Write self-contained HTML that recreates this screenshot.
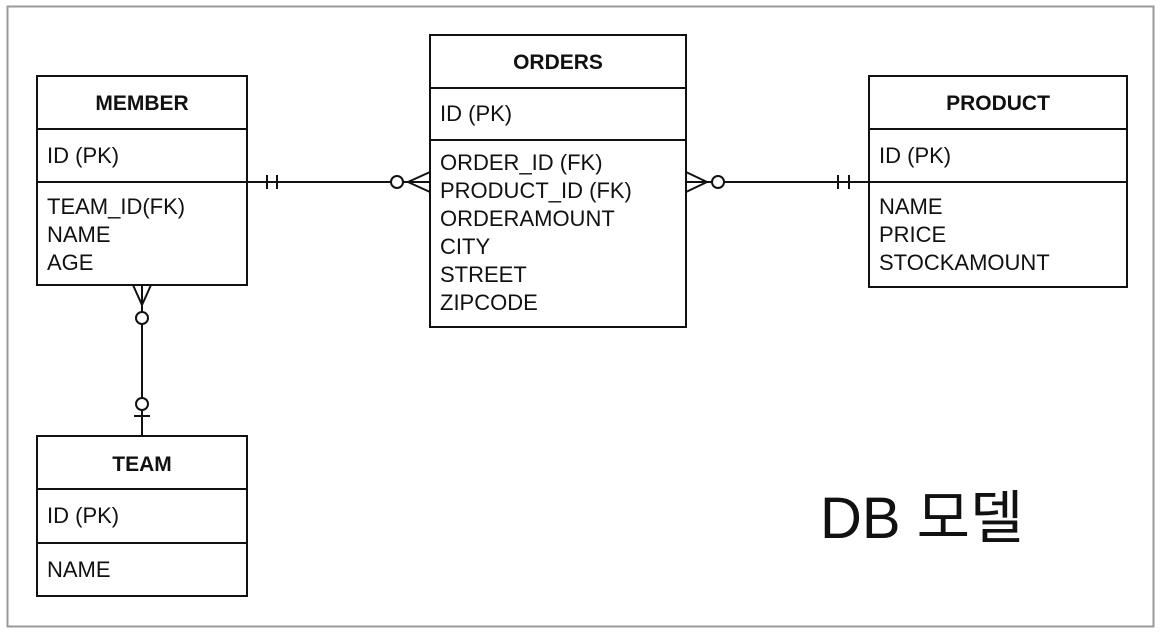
<!DOCTYPE html>
<html><head><meta charset="utf-8"><style>
html,body{margin:0;padding:0;background:#fff;}
body{width:1162px;height:637px;position:relative;overflow:hidden;font-family:"Liberation Sans","Noto Sans CJK KR",sans-serif;}
</style></head><body>
<svg width="1162" height="637" viewBox="0 0 1162 637" xmlns="http://www.w3.org/2000/svg" style="position:absolute;left:0;top:0">
<rect x="7.5" y="6.5" width="1146" height="620" fill="#fff" stroke="#999" stroke-width="2"/>
<g fill="none" stroke="#111" stroke-width="2">
<!-- MEMBER -->
<rect x="37" y="76" width="210" height="209"/>
<line x1="37" y1="129" x2="247" y2="129"/><line x1="37" y1="182" x2="247" y2="182"/>
<!-- ORDERS -->
<rect x="430" y="35" width="256" height="292"/>
<line x1="430" y1="88" x2="686" y2="88"/><line x1="430" y1="140" x2="686" y2="140"/>
<!-- PRODUCT -->
<rect x="869" y="76" width="258" height="211"/>
<line x1="869" y1="129" x2="1127" y2="129"/><line x1="869" y1="182" x2="1127" y2="182"/>
<!-- TEAM -->
<rect x="37" y="436" width="210" height="160"/>
<line x1="37" y1="489" x2="247" y2="489"/><line x1="37" y1="543" x2="247" y2="543"/>
<!-- MEMBER-ORDERS -->
<line x1="247" y1="182" x2="391" y2="182"/>
<line x1="267" y1="175" x2="267" y2="189"/><line x1="277" y1="175" x2="277" y2="189"/>
<circle cx="397" cy="182" r="6"/>
<line x1="430" y1="172" x2="408" y2="182"/><line x1="403" y1="182" x2="430" y2="182"/><line x1="430" y1="192" x2="408" y2="182"/>
<!-- ORDERS-PRODUCT -->
<line x1="686" y1="172" x2="707" y2="182"/><line x1="686" y1="182" x2="712" y2="182"/><line x1="686" y1="192" x2="707" y2="182"/>
<circle cx="718" cy="182" r="6"/>
<line x1="724" y1="182" x2="869" y2="182"/>
<line x1="838" y1="175" x2="838" y2="189"/><line x1="849" y1="175" x2="849" y2="189"/>
<!-- MEMBER-TEAM -->
<line x1="133" y1="285" x2="142" y2="305"/><line x1="142" y1="285" x2="142" y2="312"/><line x1="151" y1="285" x2="142" y2="305"/>
<circle cx="142" cy="318" r="6"/>
<line x1="142" y1="324" x2="142" y2="398"/>
<circle cx="142" cy="404" r="6"/>
<line x1="142" y1="410" x2="142" y2="436"/>
<line x1="134" y1="416" x2="150" y2="416"/>
</g>
<g font-family="Liberation Sans, sans-serif" fill="#111">
<g font-size="21" font-weight="bold" text-anchor="middle">
<text x="142" y="110">MEMBER</text>
<text x="558" y="69">ORDERS</text>
<text x="998" y="110">PRODUCT</text>
<text x="142" y="471">TEAM</text>
</g>
<g font-size="22">
<text x="47" y="163">ID (PK)</text>
<text x="47" y="214">TEAM_ID(FK)</text>
<text x="47" y="242">NAME</text>
<text x="47" y="270">AGE</text>
<text x="440" y="121">ID (PK)</text>
<text x="440" y="170">ORDER_ID (FK)</text>
<text x="440" y="198">PRODUCT_ID (FK)</text>
<text x="440" y="226">ORDERAMOUNT</text>
<text x="440" y="254">CITY</text>
<text x="440" y="282">STREET</text>
<text x="440" y="310">ZIPCODE</text>
<text x="879" y="163">ID (PK)</text>
<text x="879" y="214">NAME</text>
<text x="879" y="242">PRICE</text>
<text x="879" y="270">STOCKAMOUNT</text>
<text x="47" y="523">ID (PK)</text>
<text x="47" y="577">NAME</text>
</g>
<text x="820" y="538" font-size="58" font-family="Liberation Sans, Noto Sans CJK KR, sans-serif">DB 모델</text>
</g>
</svg>
</body></html>
